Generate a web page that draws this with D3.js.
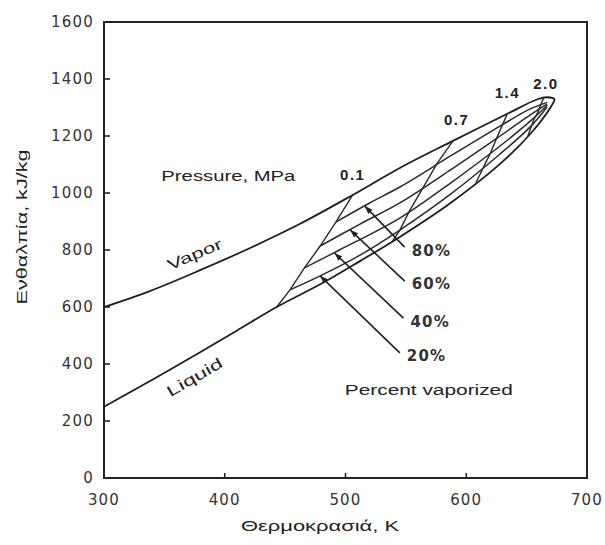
<!DOCTYPE html>
<html>
<head>
<meta charset="utf-8">
<script src="https://cdn.jsdelivr.net/npm/d3@7"></script>
<style>
  body{margin:0;background:#fff;}
  svg{display:block;}
  .tick-label{font-family:"DejaVu Sans",sans-serif;font-size:15px;fill:#333;letter-spacing:1.2px;}
  .note{font-family:"Liberation Sans",Arial,sans-serif;fill:#222;}
</style>
</head>
<body>
<svg id="chart" width="605" height="545"></svg>
<script>
//axis ticks
var xTicks=[300,400,500,600,700];
var yTicks=[0,200,400,600,800,1000,1200,1400,1600];

//vapor (dew) curve, ends at the critical tip
var vaporT=[300,338,380,421,462,506,545,589,634,659,667,673];
var vaporH=[600,656,730,807,891,993,1088,1183,1278,1329,1336,1329];
//liquid (bubble) curve
var liquidT=[300,340,380,410,443,481,512,545,587,628,653,670];
var liquidH=[250,345,442,517,600,684,761,846,965,1102,1207,1302];

//percent vaporized lines
var pctNames=["80%","60%","40%","20%"];
var p80T=[492,520,545,587,628,653,667], p80H=[898,965,1021,1130,1235,1295,1318];
var p60T=[479,512,545,587,628,653,667], p60H=[814,891,965,1081,1200,1274,1313];
var p40T=[466,495,545,587,628,653,667], p40H=[737,800,912,1035,1165,1252,1308];
var p20T=[454,479,512,545,587,628,653,667], p20H=[660,709,782,870,996,1137,1232,1302];

//isobars, MPa
var pressures=["0.1","0.7","1.4","2.0"];
var iso01T=[443,454,466,479,492,506], iso01H=[600,660,737,814,898,993];
var iso07T=[539,545,553,564,576,589], iso07H=[831,870,937,1017,1105,1183];
var iso14T=[608,614,620,625,630,634], iso14H=[1036,1088,1140,1190,1239,1278];
var iso20T=[651,654,656,659,661,664], iso20H=[1200,1235,1258,1280,1302,1333];
var isoLabelT=[506,592,634,666], isoLabelH=[1063,1256,1351,1382];

//leader lines from the percent lines to their labels
var leaderFromT=[516,504,491,479], leaderFromH=[954,870,789,709];
var leaderToT=[549,549,548,545], leaderToH=[810,691,561,439];

function zip(a,b){
  var out=[];
  for(var i=0;i<a.length;i++){ out.push([a[i],b[i]]); }
  return out;
}

var svg=d3.select("#chart");
var x=d3.scaleLinear().domain([300,700]).range([104,587]);
var y=d3.scaleLinear().domain([0,1600]).range([478,22]);

var smooth=d3.line().x(function(d){return x(d[0]);}).y(function(d){return y(d[1]);}).curve(d3.curveCatmullRom);
var straight=d3.line().x(function(d){return x(d[0]);}).y(function(d){return y(d[1]);});

svg.append("defs").append("marker")
    .attr("id","arrow")
    .attr("viewBox","0 0 8 6")
    .attr("refX",8).attr("refY",3)
    .attr("markerWidth",8).attr("markerHeight",6)
    .attr("markerUnits","userSpaceOnUse")
    .attr("orient","auto-start-reverse")
  .append("path").attr("d","M0,0L8,3L0,6z").attr("fill","#222");

//frame
svg.append("rect")
    .attr("x",x(300)).attr("y",y(1600))
    .attr("width",x(700)-x(300)).attr("height",y(0)-y(1600))
    .attr("fill","none").attr("stroke","#222").attr("stroke-width",2);

//y ticks and labels
var yAxis=svg.append("g");
yAxis.selectAll("line").data(yTicks.slice(1,-1)).enter().append("line")
    .attr("x1",x(300)).attr("x2",x(300)+6)
    .attr("y1",function(d){return y(d);}).attr("y2",function(d){return y(d);})
    .attr("stroke","#222").attr("stroke-width",1.6);
yAxis.selectAll("text").data(yTicks).enter().append("text")
    .attr("class","tick-label")
    .attr("x",94).attr("y",function(d){return y(d);})
    .attr("dy","0.36em").attr("text-anchor","end")
    .text(function(d){return d;});

//x ticks and labels
var xAxis=svg.append("g");
xAxis.selectAll("line").data(xTicks.slice(1,-1)).enter().append("line")
    .attr("x1",function(d){return x(d);}).attr("x2",function(d){return x(d);})
    .attr("y1",y(0)).attr("y2",y(0)-5)
    .attr("stroke","#222").attr("stroke-width",1.6);
xAxis.selectAll("text").data(xTicks).enter().append("text")
    .attr("class","tick-label")
    .attr("x",function(d){return x(d);}).attr("y",505)
    .attr("text-anchor","middle")
    .text(function(d){return d;});

//axis titles
svg.append("text").attr("class","note")
    .attr("x",320).attr("y",531).attr("text-anchor","middle")
    .attr("font-size",15).attr("textLength",158).attr("lengthAdjust","spacingAndGlyphs")
    .text("Θερμοκρασιά,  K");
svg.append("text").attr("class","note")
    .attr("transform","translate(27,227) rotate(-90)").attr("text-anchor","middle")
    .attr("font-size",15).attr("textLength",155).attr("lengthAdjust","spacingAndGlyphs")
    .text("Ενθαλπία, kJ/kg");

//phase envelope: vapor out to the tip, liquid back
var envelope=zip(vaporT,vaporH).concat(zip(liquidT,liquidH).reverse());
svg.append("path").datum(envelope)
    .attr("d",smooth).attr("fill","none")
    .attr("stroke","#1e1e1e").attr("stroke-width",1.8).attr("stroke-linejoin","round");

//percent vaporized lines
var pctLines=[zip(p80T,p80H),zip(p60T,p60H),zip(p40T,p40H),zip(p20T,p20H)];
svg.selectAll(".pct").data(pctLines).enter().append("path")
    .attr("class","pct").attr("d",smooth).attr("fill","none")
    .attr("stroke","#2a2a2a").attr("stroke-width",1.5);

//isobars
var isoLines=[zip(iso01T,iso01H),zip(iso07T,iso07H),zip(iso14T,iso14H),zip(iso20T,iso20H)];
svg.selectAll(".iso").data(isoLines).enter().append("path")
    .attr("class","iso").attr("d",straight).attr("fill","none")
    .attr("stroke","#2a2a2a").attr("stroke-width",1.4);
svg.selectAll(".isolabel").data(pressures).enter().append("text")
    .attr("class","note isolabel")
    .attr("x",function(d,i){return x(isoLabelT[i]);})
    .attr("y",function(d,i){return y(isoLabelH[i]);})
    .attr("dy","0.35em").attr("text-anchor","middle")
    .attr("font-size",15).attr("font-weight","bold").attr("fill","#333")
    .attr("letter-spacing","1.5px")
    .text(function(d){return d;});

//leaders and percent labels
svg.selectAll(".leader").data(pctNames).enter().append("line")
    .attr("class","leader")
    .attr("x1",function(d,i){return x(leaderFromT[i]);})
    .attr("y1",function(d,i){return y(leaderFromH[i]);})
    .attr("x2",function(d,i){return x(leaderToT[i]);})
    .attr("y2",function(d,i){return y(leaderToH[i]);})
    .attr("stroke","#222").attr("stroke-width",1.6)
    .attr("marker-start","url(#arrow)");
svg.selectAll(".pctlabel").data(pctNames).enter().append("text")
    .attr("class","tick-label pctlabel")
    .attr("x",function(d,i){return x(leaderToT[i])+7;})
    .attr("y",function(d,i){return y(leaderToH[i])+3;})
    .attr("dy","0.36em").attr("font-weight","bold").attr("letter-spacing","0.8px")
    .text(function(d){return d;});

//other notes
svg.append("text").attr("class","note")
    .attr("x",x(403)).attr("y",y(1060)).attr("dy","0.35em").attr("text-anchor","middle")
    .attr("font-size",14).attr("textLength",134).attr("lengthAdjust","spacingAndGlyphs")
    .text("Pressure, MPa");
svg.append("text").attr("class","note")
    .attr("x",x(569)).attr("y",y(309)).attr("dy","0.35em").attr("text-anchor","middle")
    .attr("font-size",14).attr("textLength",168).attr("lengthAdjust","spacingAndGlyphs")
    .text("Percent vaporized");
svg.append("text").attr("class","note")
    .attr("transform","translate("+x(375)+","+y(785)+") rotate(-23)")
    .attr("dy","0.35em").attr("text-anchor","middle")
    .attr("font-size",15).attr("textLength",58).attr("lengthAdjust","spacingAndGlyphs")
    .text("Vapor");
svg.append("text").attr("class","note")
    .attr("transform","translate("+x(375)+","+y(354)+") rotate(-30)")
    .attr("dy","0.35em").attr("text-anchor","middle")
    .attr("font-size",15).attr("textLength",62).attr("lengthAdjust","spacingAndGlyphs")
    .text("Liquid");
</script>
</body>
</html>
